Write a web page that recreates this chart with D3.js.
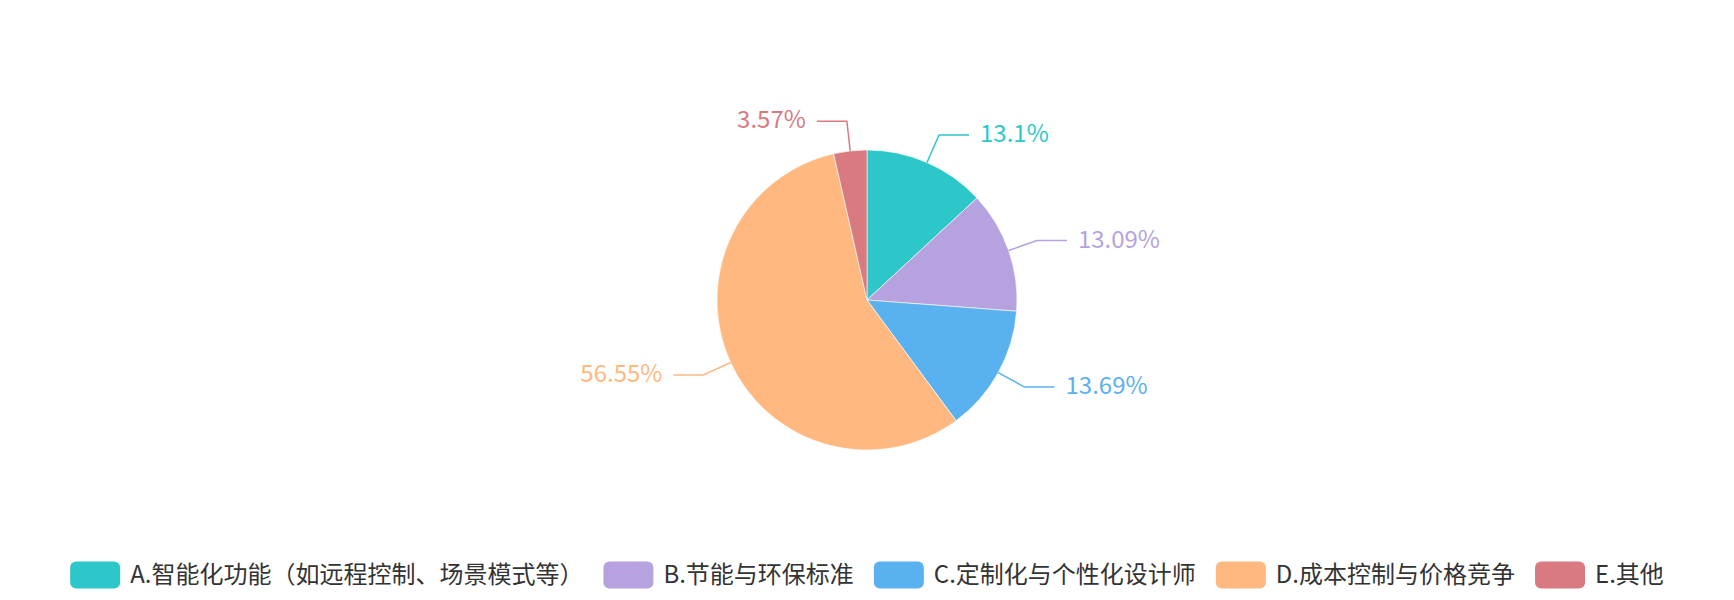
<!DOCTYPE html>
<html>
<head>
<meta charset="utf-8">
<script src="https://cdn.jsdelivr.net/npm/d3@7"></script>
<style>
  html, body { margin: 0; padding: 0; background: #fff; }
  svg { display: block; font-family: "Noto Sans CJK SC", "Noto Sans", sans-serif; }
</style>
</head>
<body>
<svg id="chart" width="1734" height="600"></svg>
<script>
// data
var categories = ["A.智能化功能（如远程控制、场景模式等）", "B.节能与环保标准", "C.定制化与个性化设计师", "D.成本控制与价格竞争", "E.其他"];
var values = [13.1, 13.09, 13.69, 56.55, 3.57];
var colors = ["#2ec7c9", "#b6a2de", "#5ab1ef", "#ffb980", "#d87a80"];

var svg = d3.select("#chart");
var width = +svg.attr("width");
var cx = width / 2, cy = 300, radius = 150;
var len1 = 30, len2 = 30, textGap = 11;

var data = categories.map(function(c, i) {
	return { name: c, value: values[i], color: colors[i] };
});

var pie = d3.pie().sort(null).value(function(d) { return d.value; });
var arc = d3.arc().innerRadius(0).outerRadius(radius);
var arcs = pie(data);

var g = svg.append("g").attr("transform", "translate(" + cx + "," + cy + ")");

g.selectAll("path.slice")
	.data(arcs)
	.enter()
	.append("path")
	.attr("class", "slice")
	.attr("d", arc)
	.attr("fill", function(d) { return d.data.color; })
	.attr("stroke", "#fff")
	.attr("stroke-width", 0.6);

// label lines + labels
function pointAt(angle, r) {
	return [Math.sin(angle) * r, -Math.cos(angle) * r];
}

var labels = g.selectAll("g.lbl")
	.data(arcs)
	.enter()
	.append("g")
	.attr("class", "lbl");

labels.each(function(d) {
	var sel = d3.select(this);
	var mid = (d.startAngle + d.endAngle) / 2;
	var p0 = pointAt(mid, radius);
	var p1 = pointAt(mid, radius + len1);
	var right = Math.sin(mid) >= 0;
	var p2 = [p1[0] + (right ? len2 : -len2), p1[1]];
	sel.append("polyline")
		.attr("points", [p0, p1, p2].map(function(p) { return p.join(","); }).join(" "))
		.attr("fill", "none")
		.attr("stroke", d.data.color)
		.attr("stroke-width", 1.5);
	sel.append("text")
		.attr("x", p2[0] + (right ? textGap : -textGap))
		.attr("y", p2[1])
		.attr("dy", "0.3em")
		.attr("text-anchor", right ? "start" : "end")
		.attr("fill", d.data.color)
		.style("font-size", "24px")
		.text(d.data.value + "%");
});

// legend
var iconW = 50, iconH = 27, iconGap = 10, itemGap = 20, legendY = 575;
var legend = svg.append("g");
var items = legend.selectAll("g.item")
	.data(data)
	.enter()
	.append("g")
	.attr("class", "item");

items.append("rect")
	.attr("width", iconW)
	.attr("height", iconH)
	.attr("y", -iconH / 2)
	.attr("rx", 6)
	.attr("fill", function(d) { return d.color; });

items.append("text")
	.attr("x", iconW + iconGap)
	.attr("dy", "0.35em")
	.attr("fill", "#333")
	.style("font-size", "24px")
	.text(function(d) { return d.name; });

var offs = [], total = 0;
items.each(function(d, i) {
	var w = iconW + iconGap + d3.select(this).select("text").node().getComputedTextLength();
	offs.push(total);
	total += w + (i < data.length - 1 ? itemGap : 0);
});
var startX = cx - total / 2;
items.attr("transform", function(d, i) {
	return "translate(" + (startX + offs[i]) + "," + legendY + ")";
});
</script>
</body>
</html>
